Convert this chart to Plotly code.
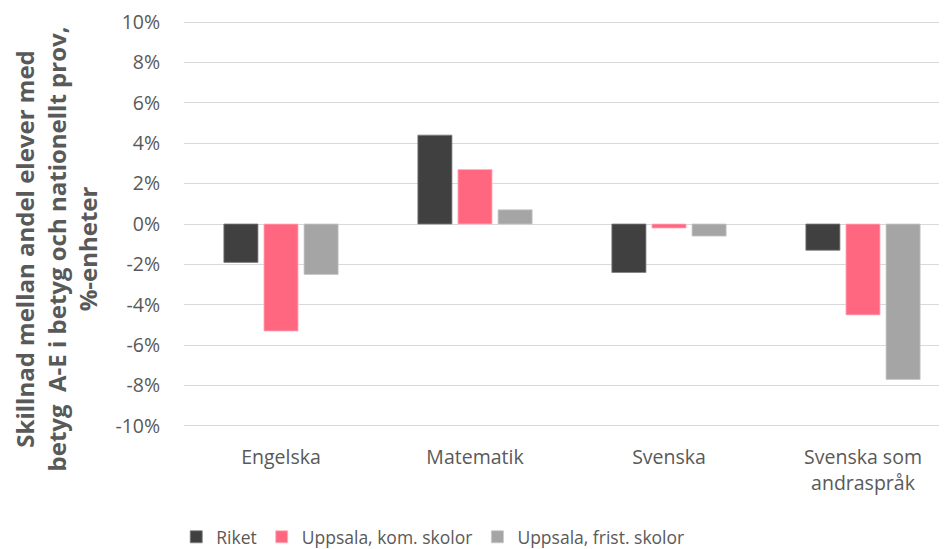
import plotly.graph_objects as go

categories = ["Engelska", "Matematik", "Svenska", "Svenska som<br>andraspråk"]
riket = [-1.9, 4.4, -2.4, -1.3]
uppsala_kom = [-5.3, 2.7, -0.2, -4.5]
uppsala_frist = [-2.5, 0.7, -0.6, -7.7]
series_names = ["Riket", "Uppsala, kom. skolor", "Uppsala, frist. skolor"]
tick_vals = [-10, -8, -6, -4, -2, 0, 2, 4, 6, 8, 10]
tick_text = [f"{v}%" for v in tick_vals]

colors = ["#404040", "#FF6680", "#A5A5A5"]
line_colors = ["#7F7F7F", "#FFB3C0", "#C8C8C8"]

FONT = "Open Sans"
GREY = "#595959"

fig = go.Figure()
for name, vals, c, lc in zip(series_names, [riket, uppsala_kom, uppsala_frist], colors, line_colors):
    fig.add_trace(go.Bar(x=categories, y=vals, name=name,
                         marker=dict(color=c, line=dict(color=lc, width=0.8))))

fig.update_layout(
    width=947, height=549,
    margin=dict(l=176, r=8, t=12, b=129, autoexpand=False),
    paper_bgcolor="white", plot_bgcolor="white",
    barmode="group", bargap=0.38, bargroupgap=0.15,
    font=dict(family=FONT, color=GREY, size=19),
    showlegend=True,
    legend=dict(orientation="h", x=0.326, xanchor="center", y=-0.267, yanchor="middle",
                font=dict(size=17.5, color=GREY), traceorder="normal", itemwidth=30),
    xaxis=dict(range=[-0.5, 3.433], showgrid=False, showline=False, zeroline=False,
               tickfont=dict(size=19.5, color=GREY), ticks="outside", ticklen=12,
               tickcolor="rgba(0,0,0,0)"),
    yaxis=dict(range=[-10.1, 10.1], tickvals=tick_vals, ticktext=tick_text,
               showgrid=True, gridcolor="#D9D9D9", gridwidth=1,
               zeroline=True, zerolinecolor="#D9D9D9", zerolinewidth=1,
               showline=False, tickfont=dict(size=19.5, color=GREY),
               ticklabeloverflow="allow",
               ticks="outside", ticklen=19, tickcolor="rgba(0,0,0,0)"),
)

fig.add_annotation(
    text="Skillnad mellan andel elever med<br>betyg  A-E i betyg och nationellt prov,<br>%-enheter",
    xref="paper", yref="paper", x=-0.1678, y=0.44, xanchor="center", yanchor="middle",
    textangle=-90, showarrow=False, align="center",
    font=dict(family=FONT, size=24, color=GREY, weight="bold"),
)

fig.write_html("out.html")
